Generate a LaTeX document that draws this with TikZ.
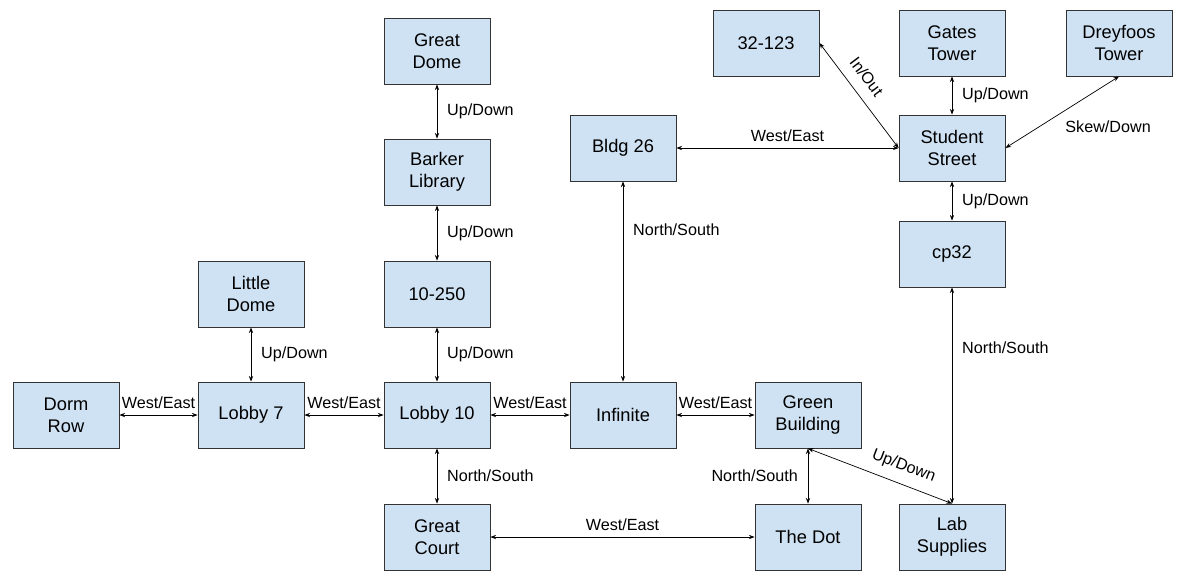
\documentclass[tikz,border=0pt]{standalone}
\usepackage{fontspec}
\setmainfont{Liberation Sans}
\usetikzlibrary{arrows.meta, positioning}
\definecolor{roomblue}{HTML}{CFE2F3}
\tikzset{
  room/.style={draw=black!80, fill=roomblue, line width=0.6pt, minimum width=2.65cm, minimum height=1.65cm, inner sep=2pt, align=center, font=\fontsize{13}{15.5}\selectfont},
  lbl/.style={font=\fontsize{11.5}{13.5}\selectfont, inner sep=2pt},
  link/.style={<->, line width=0.5pt, black}
}

\begin{document}
\begin{tikzpicture}[x=0.025cm, y=-0.025cm, >={Stealth[length=4pt,width=3pt]}]
    \useasboundingbox (0,0) rectangle (1181,581);

    \node[room] (dorm) at (66, 415) {Dorm\\Row};
    \node[room] (lobbyseven) at (251, 415) {Lobby 7};
    \node[room] (lobbyten) at (437, 415) {Lobby 10};
    \node[room] (infinite) at (623, 415) {Infinite};
    \node[room] (green) at (808, 415) {Green\\Building};

    \node[room] (littledome) at (251, 294) {Little\\Dome};
    \node[room] (tentwofifty) at (437, 294) {10-250};
    \node[room] (barker) at (437, 172) {Barker\\Library};
    \node[room] (greatdome) at (437, 51) {Great\\Dome};

    \node[room] (greatcourt) at (437, 537) {Great\\Court};
    \node[room] (dot) at (808, 537) {The Dot};
    \node[room] (lab) at (952, 537) {Lab\\Supplies};

    \node[room] (bldg) at (623, 148) {Bldg 26};
    \node[room] (lecture) at (766, 43) {32-123};
    \node[room] (gates) at (952, 43) {Gates\\Tower};
    \node[room] (dreyfoos) at (1119, 43) {Dreyfoos\\Tower};
    \node[room] (student) at (952, 148) {Student\\Street};
    \node[room] (cpthirtytwo) at (952, 254) {cp32};

    \draw
    (dorm) edge[link] node[lbl, above=2pt] {West/East} (lobbyseven)
    (lobbyseven) edge[link] node[lbl, above=2pt] {West/East} (lobbyten)
    (lobbyten) edge[link] node[lbl, above=2pt] {West/East} (infinite)
    (infinite) edge[link] node[lbl, above=2pt] {West/East} (green)

    (littledome) edge[link] node[lbl, right=5pt] {Up/Down} (lobbyseven)
    (tentwofifty) edge[link] node[lbl, right=5pt] {Up/Down} (lobbyten)
    (barker) edge[link] node[lbl, right=5pt] {Up/Down} (tentwofifty)
    (greatdome) edge[link] node[lbl, right=5pt] {Up/Down} (barker)

    (lobbyten) edge[link] node[lbl, right=5pt] {North/South} (greatcourt)
    (greatcourt) edge[link] node[lbl, above=2pt] {West/East} (dot)
    (green) edge[link] node[lbl, left=5pt] {North/South} (dot)
    (green.south) edge[link] node[lbl, sloped, above=5pt, pos=0.62] {Up/Down} (lab.north)
    (cpthirtytwo) edge[link] node[lbl, right=5pt, pos=0.28] {North/South} (lab)

    (bldg) edge[link] node[lbl, right=5pt, pos=0.24] {North/South} (infinite)
    (bldg) edge[link] node[lbl, above=2pt] {West/East} (student)
    (student) edge[link] node[lbl, right=5pt] {Up/Down} (cpthirtytwo)
    (gates) edge[link] node[lbl, right=5pt] {Up/Down} (student)
    (lecture.east) edge[link] node[lbl, sloped, above=6pt, pos=0.42] {In/Out} (student.west)
    (student.east) edge[link] node[lbl, below right, pos=0.5, yshift=-4pt] {Skew/Down} (dreyfoos.south);
\end{tikzpicture}
\end{document}
